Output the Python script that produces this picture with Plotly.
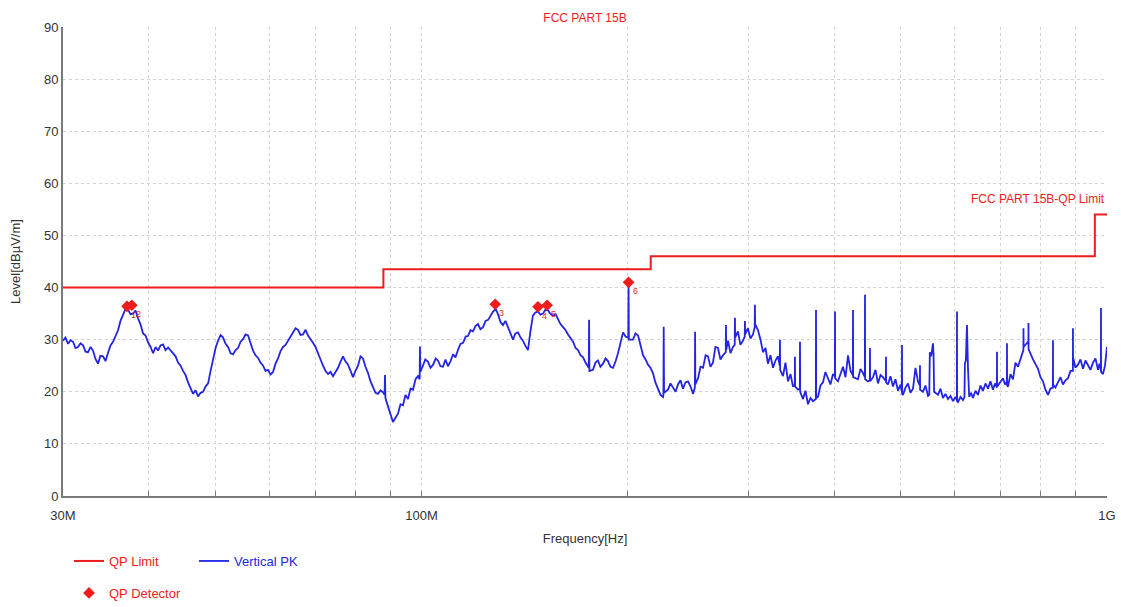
import math
import plotly.graph_objects as go

# ---------------- data ----------------
TITLE = "FCC PART 15B"
LIMIT_NAME = "FCC PART 15B-QP Limit"

# QP limit (MHz, dBuV/m)
LIMIT_FREQ_MHZ = [30, 88, 88, 216, 216, 960, 960, 1000]
LIMIT_LEVEL = [40, 40, 43.5, 43.5, 46, 46, 54, 54]

# QP detector readings
QP_FREQ_MHZ = [37.2, 37.8, 128.1, 147.9, 152.5, 200.5]
QP_LEVEL = [36.4, 36.6, 36.8, 36.3, 36.6, 41.0]
QP_LABELS = ["1", "2", "3", "4", "5", "6"]

# Vertical PK sweep (frequency in MHz, level in dBuV/m)
PK_FREQ_MHZ = [
    30.00, 30.25, 30.51, 30.77, 31.03, 31.29, 31.55, 31.82, 32.09, 32.36,
    32.63, 32.91, 33.18, 33.46, 33.74, 34.02, 34.32, 34.61, 34.90, 35.19,
    35.49, 35.79, 36.09, 36.39, 36.70, 37.01, 37.32, 37.63, 37.96, 38.28,
    38.60, 38.93, 39.25, 39.58, 39.92, 40.26, 40.60, 40.94, 41.28, 41.63,
    41.98, 42.33, 42.70, 43.06, 43.42, 43.79, 44.15, 44.52, 44.90, 45.28,
    45.66, 46.04, 46.44, 46.83, 47.22, 47.62, 48.02, 48.42, 48.84, 49.25,
    49.66, 50.08, 50.50, 50.93, 51.36, 51.79, 52.23, 52.67, 53.11, 53.56,
    54.01, 54.47, 54.92, 55.38, 55.85, 56.32, 56.80, 57.28, 57.76, 58.25,
    58.74, 59.23, 59.73, 60.23, 60.74, 61.25, 61.77, 62.29, 62.82, 63.35,
    63.88, 64.42, 64.96, 65.51, 66.06, 66.62, 67.18, 67.75, 68.32, 68.90,
    69.47, 70.06, 70.65, 71.25, 71.85, 72.46, 73.06, 73.68, 74.30, 74.93,
    75.56, 76.20, 76.84, 77.49, 78.14, 78.80, 79.46, 80.13, 80.81, 81.49,
    82.17, 82.86, 83.57, 84.27, 84.98, 85.70, 86.42, 87.15, 87.88, 88.35,
    88.47, 88.60, 89.37, 90.12, 90.88, 91.65, 92.42, 93.20, 93.99, 94.78,
    95.58, 96.39, 97.20, 98.02, 98.84, 99.40, 99.50, 99.60, 100.5, 101.3,
    102.2, 103.1, 104.0, 104.9, 105.7, 106.6, 107.5, 108.4, 109.3, 110.2,
    111.2, 112.1, 113.1, 114.0, 115.0, 116.0, 116.9, 117.9, 118.9, 119.9,
    120.9, 121.9, 123.0, 124.0, 125.1, 126.2, 127.2, 128.3, 129.3, 130.4,
    131.5, 132.6, 133.7, 134.8, 136.0, 137.1, 138.3, 139.5, 140.6, 141.8,
    143.0, 144.2, 145.4, 146.6, 147.9, 149.1, 150.4, 151.7, 153.0, 154.3,
    155.6, 156.9, 158.2, 159.5, 160.9, 162.3, 163.6, 165.0, 166.4, 167.8,
    169.2, 170.6, 172.1, 173.5, 175.0, 175.4, 175.6, 175.8, 177.9, 179.4,
    180.9, 182.4, 184.0, 185.6, 187.1, 188.7, 190.3, 191.9, 193.5, 195.1,
    196.8, 198.5, 200.1, 200.3, 200.5, 200.7, 203.5, 205.2, 207.0, 208.7,
    210.5, 212.3, 214.0, 215.8, 217.6, 219.4, 221.3, 223.2, 225.1, 225.4,
    225.6, 225.9, 228.9, 230.8, 232.8, 234.8, 236.7, 238.7, 240.7, 242.7,
    244.8, 246.9, 249.0, 250.5, 250.7, 250.9, 253.2, 255.3, 257.5, 259.7,
    261.8, 264.0, 266.2, 268.4, 270.7, 273.0, 275.3, 277.9, 278.1, 278.3,
    280.0, 282.4, 284.7, 286.4, 286.6, 286.8, 289.5, 291.9, 294.4, 296.2,
    296.4, 296.6, 299.4, 301.9, 304.5, 306.3, 306.5, 306.7, 309.7, 312.3,
    314.9, 317.6, 320.2, 322.9, 325.7, 328.4, 331.2, 333.2, 333.4, 333.6,
    336.8, 339.6, 342.5, 345.4, 348.3, 350.4, 350.6, 350.8, 354.2, 356.4,
    356.6, 356.8, 360.2, 363.2, 366.3, 369.4, 372.5, 376.1, 376.3, 376.5,
    378.8, 382.0, 385.2, 388.4, 391.7, 395.0, 398.4, 400.9, 401.1, 401.3,
    405.1, 408.5, 412.0, 415.5, 419.0, 422.5, 425.9, 426.1, 426.3, 433.3,
    436.9, 440.6, 443.4, 443.6, 443.8, 448.1, 450.9, 451.1, 451.3, 455.7,
    459.5, 463.4, 467.3, 471.2, 475.8, 476.0, 476.2, 479.2, 483.2, 487.3,
    491.4, 495.6, 499.8, 502.1, 502.3, 502.5, 504.0, 508.2, 512.5, 516.8,
    521.2, 525.6, 530.0, 533.4, 533.6, 533.8, 539.0, 543.5, 548.1, 550.5,
    551.5, 554.0, 557.4, 558.5, 559.5, 566.8, 571.6, 576.4, 581.3, 586.2,
    591.1, 596.1, 601.1, 604.0, 604.2, 604.4, 606.2, 611.3, 616.5, 619.5,
    620.5, 622.5, 624.8, 626.0, 626.9, 629.5, 633.5, 637.5, 642.9, 648.3,
    653.8, 659.3, 664.9, 670.5, 676.1, 681.8, 686.3, 690.9, 691.1, 691.3,
    693.4, 699.2, 705.1, 710.0, 714.5, 714.7, 714.9, 717.1, 723.1, 729.2,
    735.3, 741.6, 747.8, 754.1, 755.2, 755.4, 755.6, 766.9, 768.0, 768.2,
    768.4, 779.9, 786.5, 793.1, 799.8, 806.5, 813.3, 820.2, 827.1, 833.9,
    834.1, 834.3, 841.0, 848.2, 855.3, 862.6, 869.9, 877.2, 884.6, 891.8,
    892.0, 892.2, 899.5, 907.1, 914.7, 922.5, 930.3, 938.1, 946.0, 954.0,
    962.0, 970.2, 975.0, 979.8, 980.0, 980.2, 986.6, 993.3, 1000.0,
]
PK_LEVEL = [
    29.8, 30.4, 29.2, 29.9, 29.6, 28.4, 28.6, 29.3, 28.9, 27.7,
    27.6, 28.6, 27.9, 26.3, 25.4, 26.9, 26.8, 25.9, 27.5, 28.9,
    29.6, 30.9, 31.8, 33.6, 34.6, 35.9, 35.8, 34.9, 35.0, 35.6,
    34.1, 32.9, 31.2, 30.8, 29.5, 28.6, 27.4, 28.6, 27.9, 28.9,
    29.1, 28.0, 28.5, 27.9, 27.2, 26.8, 25.6, 25.0, 24.0, 23.2,
    21.8, 20.8, 19.6, 20.3, 19.1, 19.8, 20.0, 21.0, 21.6, 24.0,
    26.2, 28.4, 29.8, 30.9, 30.4, 29.2, 28.6, 27.4, 27.2, 28.0,
    28.4, 29.6, 30.1, 31.0, 30.8, 29.2, 27.9, 27.0, 26.5, 25.6,
    25.0, 24.0, 24.2, 23.3, 23.8, 25.4, 26.4, 27.8, 28.6, 29.0,
    29.8, 30.6, 31.2, 32.2, 31.9, 30.9, 31.0, 31.9, 30.8, 30.2,
    29.4, 28.6, 27.2, 26.2, 25.0, 24.0, 23.4, 23.8, 23.0, 23.9,
    24.6, 25.8, 26.8, 25.8, 25.2, 24.0, 22.8, 24.0, 25.0, 26.8,
    26.4, 24.8, 23.6, 22.0, 20.8, 19.8, 19.6, 20.3, 19.9, 19.4,
    23.2, 18.8, 17.2, 15.6, 14.2, 15.0, 15.8, 17.6, 17.4, 19.4,
    18.6, 20.6, 20.4, 22.4, 23.0, 22.4, 28.7, 23.8, 25.0, 26.2,
    25.8, 24.6, 25.2, 26.4, 26.0, 24.9, 24.8, 26.2, 24.9, 25.8,
    27.2, 26.6, 28.1, 29.2, 29.4, 30.6, 30.7, 31.8, 31.6, 32.6,
    33.0, 32.0, 32.4, 33.6, 33.8, 34.6, 35.4, 35.9, 34.9, 33.4,
    32.8, 33.6, 32.4, 31.0, 30.0, 31.2, 31.4, 30.4, 29.8, 28.8,
    28.0, 31.6, 34.6, 35.2, 35.4, 34.8, 35.0, 35.8, 35.6, 34.9,
    34.6, 34.9, 34.0, 33.0, 32.4, 31.8, 31.0, 30.4, 29.6, 28.4,
    28.0, 27.0, 26.6, 25.6, 24.8, 24.6, 33.8, 24.0, 24.2, 25.6,
    26.0, 24.8, 25.4, 26.4, 25.9, 24.8, 24.6, 25.8, 27.4, 29.6,
    31.4, 30.6, 30.4, 30.2, 40.9, 30.0, 30.0, 31.2, 30.8, 29.0,
    27.0, 26.2, 25.2, 24.6, 23.6, 21.8, 20.6, 19.4, 19.0, 19.4,
    32.5, 19.8, 20.4, 21.6, 20.8, 20.0, 21.4, 22.2, 20.6, 21.8,
    22.0, 21.0, 19.6, 20.8, 31.5, 21.4, 22.6, 24.8, 24.6, 27.0,
    26.8, 24.8, 25.6, 28.6, 28.4, 26.2, 27.0, 27.6, 32.8, 28.0,
    29.8, 27.4, 28.6, 29.0, 34.2, 30.4, 31.6, 29.0, 29.8, 30.6,
    33.6, 31.0, 32.2, 30.2, 31.0, 32.4, 36.7, 33.0, 31.8, 30.0,
    27.6, 28.4, 25.4, 27.0, 24.6, 26.0, 26.8, 25.0, 30.0, 24.2,
    23.0, 25.6, 22.0, 23.4, 21.0, 21.4, 26.7, 21.0, 20.4, 20.6,
    29.6, 20.0, 18.6, 20.2, 17.6, 18.8, 18.2, 18.6, 35.7, 18.8,
    19.0, 21.2, 21.8, 23.8, 22.6, 21.4, 23.4, 23.0, 35.4, 22.6,
    22.0, 23.6, 24.8, 22.8, 27.0, 24.0, 23.2, 35.7, 22.8, 22.4,
    24.4, 23.6, 22.8, 38.6, 22.4, 22.0, 22.2, 28.4, 22.0, 22.8,
    24.2, 21.6, 23.2, 22.8, 22.0, 26.7, 21.8, 21.4, 23.0, 21.0,
    22.4, 20.2, 21.4, 20.0, 29.0, 19.6, 19.4, 20.8, 21.6, 19.8,
    20.6, 24.6, 22.0, 21.2, 25.1, 20.4, 20.0, 21.2, 19.2, 19.4,
    27.6, 26.8, 29.3, 27.0, 20.0, 19.4, 20.6, 18.8, 19.6, 18.6,
    19.2, 18.2, 19.0, 18.4, 35.4, 18.2, 18.0, 19.0, 18.4, 19.0,
    25.5, 26.0, 32.8, 25.0, 24.6, 19.0, 19.8, 18.8, 20.2, 19.4,
    21.2, 20.2, 21.6, 20.6, 22.0, 20.4, 21.6, 20.8, 27.7, 21.0,
    21.2, 22.0, 22.6, 21.4, 22.0, 29.3, 21.2, 21.0, 23.4, 22.4,
    25.6, 24.8, 26.4, 27.8, 28.0, 32.2, 28.6, 29.6, 29.0, 33.2,
    28.2, 26.2, 25.4, 24.4, 22.8, 22.0, 20.4, 19.4, 20.6, 20.8,
    29.9, 21.4, 20.8, 21.8, 22.8, 21.4, 22.2, 22.6, 24.0, 24.0,
    32.2, 26.6, 24.6, 25.2, 26.2, 24.4, 26.0, 25.0, 24.2, 25.6,
    26.4, 24.2, 25.4, 24.0, 36.1, 23.8, 23.4, 25.0, 28.6,
]
assert len(PK_FREQ_MHZ) == len(PK_LEVEL)

GRID_MHZ = [30, 40, 50, 60, 70, 80, 90, 100, 200, 300, 400, 500, 600, 700, 800, 900, 1000]
GRID_TEXT = ["30M", "", "", "", "", "", "", "100M", "", "", "", "", "", "", "", "", "1G"]
Y_TICKS = [0, 10, 20, 30, 40, 50, 60, 70, 80, 90]

RED = "#ee1c1c"
BLUE = "#2424e4"
FONT = "Liberation Sans, Arial, sans-serif"
W, H = 1121, 607


def hz(seq):
    return [v * 1e6 for v in seq]


fig = go.Figure()
fig.add_trace(go.Scatter(
    x=hz(LIMIT_FREQ_MHZ), y=LIMIT_LEVEL, mode="lines",
    line=dict(color=RED, width=2),
    name=f"<span style='color:{RED}'>QP Limit</span>", legend="legend"))
fig.add_trace(go.Scatter(
    x=hz(PK_FREQ_MHZ), y=PK_LEVEL, mode="lines",
    line=dict(color=BLUE, width=1.8),
    name=f"<span style='color:{BLUE}'>Vertical PK</span>", legend="legend"))
fig.add_trace(go.Scatter(
    x=hz(QP_FREQ_MHZ), y=QP_LEVEL, mode="markers",
    marker=dict(color=RED, symbol="diamond", size=9),
    name=f"<span style='color:{RED}'>QP Detector</span>", legend="legend2"))

# small index labels next to the QP detector points
label_annotations = [
    dict(x=math.log10(f * 1e6), y=v, xref="x", yref="y", text=t,
         showarrow=False, xanchor="left", yanchor="top", xshift=2, yshift=-2,
         font=dict(color=RED, size=9, family=FONT))
    for f, v, t in zip(QP_FREQ_MHZ, QP_LEVEL, QP_LABELS)
]

fig.update_layout(
    width=W, height=H,
    margin=dict(l=63, r=14, t=27, b=111),
    plot_bgcolor="white", paper_bgcolor="white",
    font=dict(family=FONT, size=13, color="#333333"),
    title=dict(text=TITLE, x=0.5, xref="paper", xanchor="center",
               y=1 - 18 / H, yref="container", yanchor="middle",
               font=dict(color=RED, size=12, family=FONT)),
    xaxis=dict(
        type="log", range=[math.log10(30e6), math.log10(1e9)],
        tickvals=hz(GRID_MHZ), ticktext=GRID_TEXT,
        showline=True, linecolor="#7a7a7a", linewidth=2,
        ticks="inside", ticklen=5, tickcolor="#7a7a7a",
        showgrid=True, gridcolor="#d4d4d4", griddash="dot", gridwidth=1,
        zeroline=False, ticklabelstandoff=6, automargin=False,
        title=dict(text="Frequency[Hz]", standoff=19, font=dict(size=13)),
    ),
    yaxis=dict(
        range=[0, 90], tickvals=Y_TICKS,
        showline=True, linecolor="#7a7a7a", linewidth=2,
        ticks="", showgrid=True, gridcolor="#d4d4d4", griddash="dot", gridwidth=1,
        zeroline=False, automargin=False,
        title=dict(text="Level[dBµV/m]", standoff=20, font=dict(size=13)),
    ),
    legend=dict(orientation="h", xref="container", x=69 / W, xanchor="left",
                yref="container", y=1 - 561 / H, yanchor="middle",
                font=dict(size=13, family=FONT),
                entrywidth=80, entrywidthmode="pixels", bgcolor="rgba(0,0,0,0)"),
    legend2=dict(orientation="h", xref="container", x=69 / W, xanchor="left",
                 yref="container", y=1 - 593 / H, yanchor="middle",
                 font=dict(size=13, family=FONT), bgcolor="rgba(0,0,0,0)"),
    annotations=[dict(text=LIMIT_NAME, xref="paper", x=1, xanchor="right",
                      yref="y", y=57, yanchor="middle", showarrow=False,
                      font=dict(color=RED, size=12, family=FONT))] + label_annotations,
)

fig.write_html("out.html", config={"displayModeBar": False},
               post_script="document.body.style.margin='0px';")
